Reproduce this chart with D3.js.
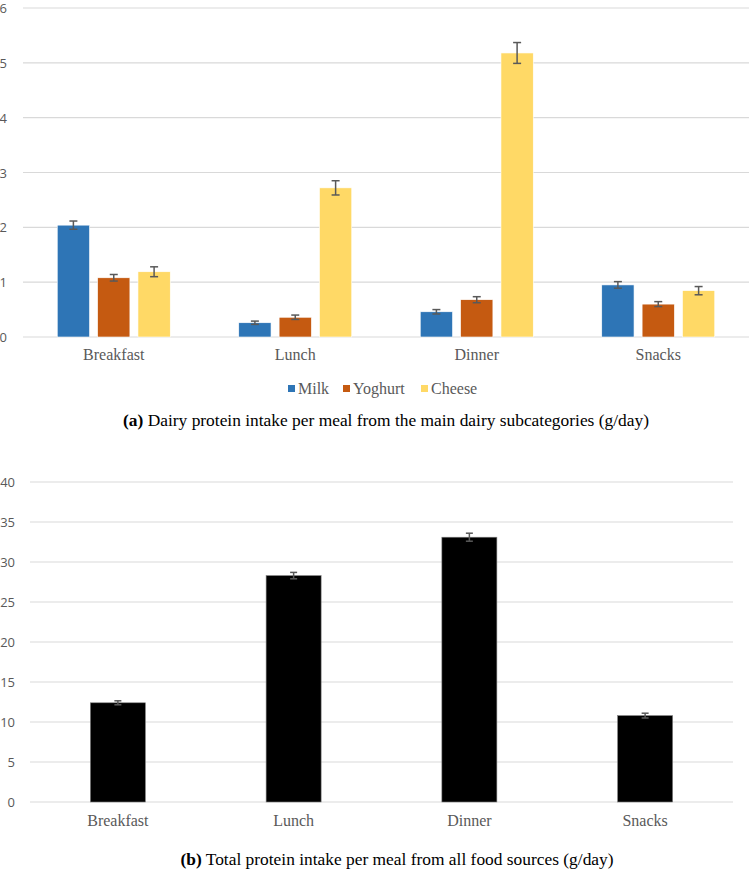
<!DOCTYPE html>
<html>
<head>
<meta charset="utf-8">
<script src="https://cdn.jsdelivr.net/npm/d3@7"></script>
<style>
  body { margin: 0; background: #fff; }
  svg { display: block; }
</style>
</head>
<body>
<div id="graph"></div>
<script>
const width = 749;
const height = 875;
const serif = "'Liberation Serif', 'Times New Roman', 'DejaVu Serif', serif";
const sans = "'Open Sans', 'Noto Sans', sans-serif";

// panel (a) data
const meals = ["Breakfast", "Lunch", "Dinner", "Snacks"];
const dairy = ["Milk", "Yoghurt", "Cheese"];
const dairyColors = ["#2e75b6", "#c55a11", "#ffd966"];
const milk = [2.04, 0.26, 0.46, 0.95];
const yoghurt = [1.08, 0.36, 0.68, 0.60];
const cheese = [1.19, 2.72, 5.18, 0.845];
const milkErr = [0.075, 0.03, 0.04, 0.06];
const yoghurtErr = [0.06, 0.04, 0.055, 0.045];
const cheeseErr = [0.09, 0.13, 0.19, 0.075];
const ticksA = [0, 1, 2, 3, 4, 5, 6];

// panel (b) data
const total = [12.4, 28.3, 33.1, 10.8];
const totalErr = [0.25, 0.4, 0.5, 0.3];
const ticksB = [0, 5, 10, 15, 20, 25, 30, 35, 40];

const svg = d3.select("#graph").append("svg")
    .attr("width", width)
    .attr("height", height);

// ---------- panel (a) ----------
const gA = svg.append("g");
const xA = d3.scaleBand().domain(meals).range([23, 749]);
const groupW = 113;
const x1 = d3.scaleBand().domain(dairy)
    .range([(xA.bandwidth() - groupW) / 2, (xA.bandwidth() + groupW) / 2])
    .paddingInner(0.2);
const yA = d3.scaleLinear().domain([0, 6]).range([337, 8]);

gA.selectAll("line.grid").data(ticksA).enter().append("line")
    .attr("x1", 23).attr("x2", 749)
    .attr("y1", d => yA(d)).attr("y2", d => yA(d))
    .attr("stroke", "#d9d9d9").attr("stroke-width", 1.2);

gA.selectAll("text.ytick").data(ticksA).enter().append("text")
    .attr("font-family", sans).attr("font-size", 13).attr("fill", "#595959")
    .attr("x", 7).attr("y", d => yA(d) + 5)
    .attr("text-anchor", "end")
    .text(d => d);

const series = [milk, yoghurt, cheese];
const errs = [milkErr, yoghurtErr, cheeseErr];
const rowsA = [];
meals.forEach((m, i) => {
    dairy.forEach((s, j) => {
        rowsA.push({ meal: m, key: s, color: dairyColors[j], v: series[j][i], e: errs[j][i] });
    });
});

gA.selectAll("rect.bar").data(rowsA).enter().append("rect")
    .attr("x", d => xA(d.meal) + x1(d.key))
    .attr("y", d => yA(d.v))
    .attr("width", x1.bandwidth())
    .attr("height", d => yA(0) - yA(d.v))
    .attr("fill", d => d.color)
    .attr("stroke", "#fff").attr("stroke-width", 0.6);

function errBars(g, rows, xf, y, cap, col) {
    const eb = g.selectAll("g.err").data(rows).enter().append("g")
        .attr("stroke", col).attr("stroke-width", 1.5);
    eb.append("line")
        .attr("x1", xf).attr("x2", xf)
        .attr("y1", d => y(d.v + d.e)).attr("y2", d => y(d.v - d.e));
    eb.append("line")
        .attr("x1", d => xf(d) - cap / 2).attr("x2", d => xf(d) + cap / 2)
        .attr("y1", d => y(d.v + d.e)).attr("y2", d => y(d.v + d.e));
    eb.append("line")
        .attr("x1", d => xf(d) - cap / 2).attr("x2", d => xf(d) + cap / 2)
        .attr("y1", d => y(d.v - d.e)).attr("y2", d => y(d.v - d.e));
}
errBars(gA, rowsA, d => xA(d.meal) + x1(d.key) + x1.bandwidth() / 2, yA, 8, "#595959");

gA.selectAll("text.xlab").data(meals).enter().append("text")
    .attr("font-family", serif).attr("font-size", 16).attr("fill", "#595959")
    .attr("x", d => xA(d) + xA.bandwidth() / 2)
    .attr("y", 360)
    .attr("text-anchor", "middle")
    .text(d => d);

// legend
const legX = [288, 343, 421];
const leg = gA.selectAll("g.leg").data(dairy).enter().append("g")
    .attr("transform", (d, i) => `translate(${legX[i]},394)`);
leg.append("rect").attr("x", 0).attr("y", -9).attr("width", 7).attr("height", 7)
    .attr("fill", (d, i) => dairyColors[i]);
leg.append("text")
    .attr("font-family", serif).attr("font-size", 16).attr("fill", "#595959")
    .attr("x", 10).attr("y", 0).text(d => d);

const capA = gA.append("text")
    .attr("font-family", serif).attr("font-size", 17.4).attr("fill", "#000")
    .attr("x", 386).attr("y", 426).attr("text-anchor", "middle");
capA.append("tspan").attr("font-weight", "bold").text("(a)");
capA.append("tspan").text(" Dairy protein intake per meal from the main dairy subcategories (g/day)");

// ---------- panel (b) ----------
const gB = svg.append("g");
const xB = d3.scaleBand().domain(meals).range([30, 733]).paddingInner(0.687).paddingOuter(0.3435);
const yB = d3.scaleLinear().domain([0, 40]).range([802, 482]);

gB.selectAll("line.grid").data(ticksB).enter().append("line")
    .attr("x1", 30).attr("x2", 733)
    .attr("y1", d => yB(d)).attr("y2", d => yB(d))
    .attr("stroke", "#d9d9d9").attr("stroke-width", 1.2);

gB.selectAll("text.ytick").data(ticksB).enter().append("text")
    .attr("font-family", sans).attr("font-size", 13).attr("fill", "#595959")
    .attr("x", 15).attr("y", d => yB(d) + 5)
    .attr("text-anchor", "end")
    .text(d => d);

const rowsB = meals.map((m, i) => ({ meal: m, v: total[i], e: totalErr[i] }));

gB.selectAll("rect.bar").data(rowsB).enter().append("rect")
    .attr("x", d => xB(d.meal))
    .attr("y", d => yB(d.v))
    .attr("width", xB.bandwidth())
    .attr("height", d => yB(0) - yB(d.v))
    .attr("fill", "#000")
    .attr("stroke", "#7f7f7f").attr("stroke-width", 0.6);

errBars(gB, rowsB, d => xB(d.meal) + xB.bandwidth() / 2, yB, 7, "#595959");

gB.selectAll("text.xlab").data(meals).enter().append("text")
    .attr("font-family", serif).attr("font-size", 16).attr("fill", "#595959")
    .attr("x", d => xB(d) + xB.bandwidth() / 2)
    .attr("y", 826)
    .attr("text-anchor", "middle")
    .text(d => d);

const capB = gB.append("text")
    .attr("font-family", serif).attr("font-size", 17.4).attr("fill", "#000")
    .attr("x", 397).attr("y", 865).attr("text-anchor", "middle");
capB.append("tspan").attr("font-weight", "bold").text("(b)");
capB.append("tspan").text(" Total protein intake per meal from all food sources (g/day)");
</script>
</body>
</html>
